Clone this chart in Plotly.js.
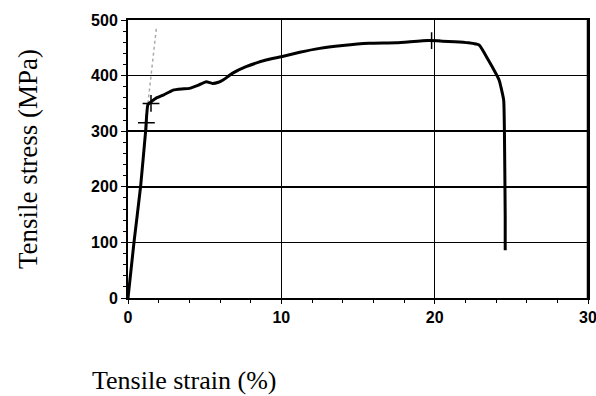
<!DOCTYPE html>
<html><head><meta charset="utf-8">
<script src="https://cdn.plot.ly/plotly-3.0.1.min.js"></script>
<style>html,body{margin:0;padding:0;background:#fff;overflow:hidden}#c{width:596px;height:396px}</style>
</head><body><div id="c"></div>
<script>
// Measured stress–strain curve (strain %, stress MPa)
const strain = [0, 0.39, 0.82, 1.15, 1.3, 1.6, 1.86, 2.3, 2.73, 2.94, 3.5, 4.0, 4.6, 5.1, 5.5, 5.9, 6.2, 6.8, 7.7, 9.0, 10.0, 11.2, 12.5, 14.0, 15.7, 17.5, 19.6, 20.5, 21.3, 22.2, 22.9, 23.5, 24.2, 24.5, 24.55, 24.6, 24.6];
const stress = [0, 100, 200, 300, 348, 355, 360, 365, 371, 374, 376, 377, 383, 389, 386, 388, 392, 404, 416, 428, 434, 442, 449, 454, 458, 459, 463, 462, 461, 459, 455, 428, 392, 356, 297, 146, 86];
// Offset (proof) line, drawn dotted
const offStrain = [1.3, 1.86];
const offStress = [350, 488];
// Small marks on the trace
const markStrain = [1.2, 1.5, 19.8];
const markStress = [315, 350, 463];
const xTicks = [0, 10, 20, 30];
const yTicks = [0, 100, 200, 300, 400, 500];

const traces = [
  {x: offStrain, y: offStress, mode: 'lines', line: {color: '#aaa', width: 1.5, dash: 'dot'}, hoverinfo: 'skip'},
  {x: strain, y: stress, mode: 'lines', line: {color: '#000', width: 3, shape: 'spline', smoothing: 0.4}},
  {x: markStrain, y: markStress, mode: 'markers', marker: {symbol: 'cross-thin', size: 12, line: {color: '#000', width: 1.5}}}
];

const tickFont = {family: 'Liberation Sans, Arial, sans-serif', size: 16, color: '#000', weight: 'bold'};
const layout = {
  width: 596, height: 396,
  margin: {l: 128, r: 8, t: 20, b: 98},
  paper_bgcolor: '#fff', plot_bgcolor: '#fff',
  showlegend: false,
  xaxis: {
    range: [0, 30], tickvals: xTicks, ticktext: xTicks.map(String),
    showgrid: true, gridcolor: '#000', gridwidth: 1.5,
    showline: true, linecolor: '#000', linewidth: 2, mirror: true,
    ticks: 'outside', ticklen: 4, tickcolor: '#000',
    minor: {dtick: 2, ticks: 'outside', ticklen: 3, tickcolor: '#000', showgrid: false},
    tickfont: tickFont, zeroline: false, ticklabeloverflow: 'allow'
  },
  yaxis: {
    range: [0, 500], tickvals: yTicks, ticktext: yTicks.map(String),
    showgrid: true, gridcolor: '#000', gridwidth: 1.5,
    showline: true, linecolor: '#000', linewidth: 2, mirror: true,
    ticks: 'outside', ticklen: 5, tickcolor: '#000',
    minor: {dtick: 20, ticks: 'outside', ticklen: 3, tickcolor: '#000', showgrid: false},
    tickfont: tickFont, zeroline: false,
    title: {text: 'Tensile stress (MPa)', font: {family: 'Liberation Serif, Times New Roman, serif', size: 27, color: '#000'}, standoff: 46}
  },
  shapes: [{type: 'line', xref: 'paper', yref: 'paper', x0: 1, x1: 1, y0: 0, y1: 1, layer: 'above', line: {color: '#000', width: 2.5}}],
  annotations: [{
    text: 'Tensile strain (%)', xref: 'paper', yref: 'paper',
    x: (184 - 128) / 460, y: -82 / 278, xanchor: 'center', yanchor: 'middle', showarrow: false,
    font: {family: 'Liberation Serif, Times New Roman, serif', size: 26, color: '#000'}
  }]
};
Plotly.newPlot('c', traces, layout, {displayModeBar: false, staticPlot: true});
</script></body></html>
